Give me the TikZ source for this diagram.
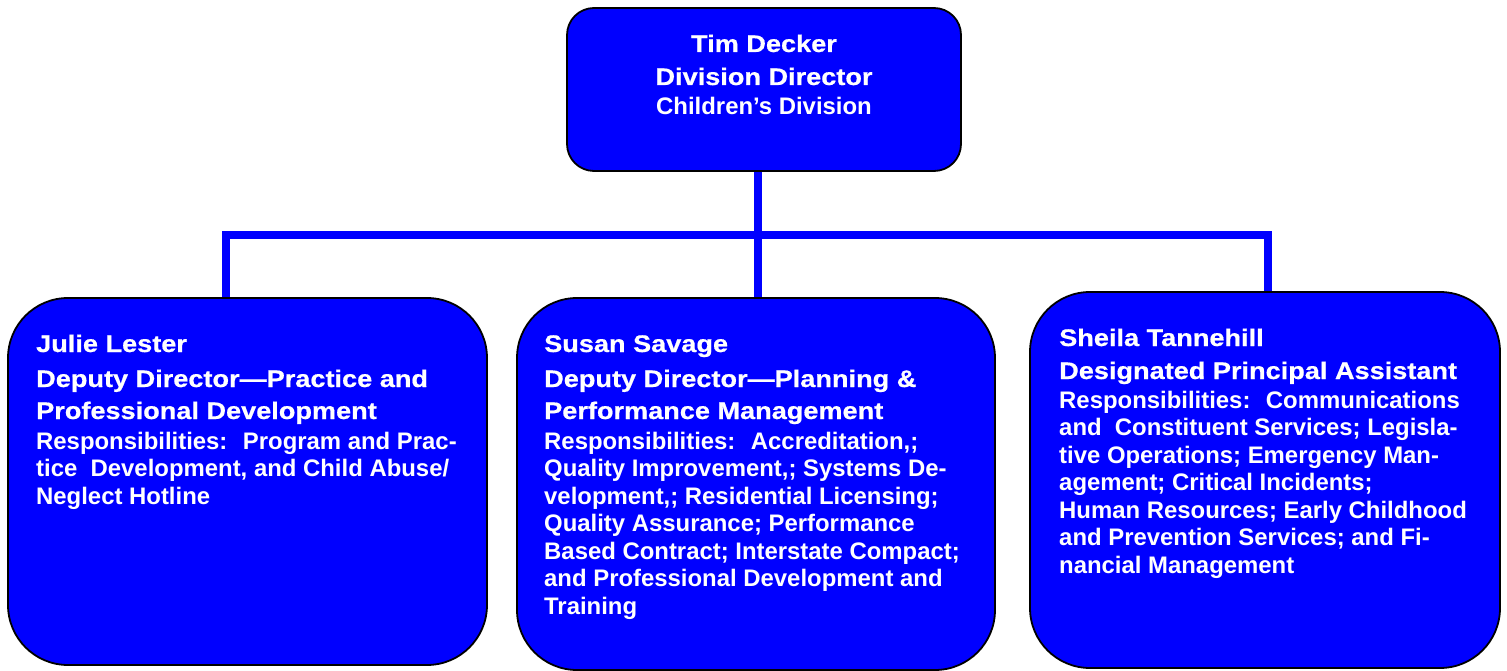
\documentclass[tikz,border=0pt]{standalone}
\usepackage{fontspec}
\setmainfont{Liberation Sans}
\newfontfamily\headfont[FakeStretch=1.13,FakeBold=0.6]{Liberation Sans}
\usetikzlibrary{backgrounds}
\definecolor{boxblue}{RGB}{0,0,255}
\tikzset{
  orgbox/.style={draw=black, line width=1.8pt, fill=boxblue, inner sep=0pt, rectangle, rounded corners=#1},
  headtext/.style={anchor=base west, inner sep=0pt, text=white, font=\headfont\bfseries\fontsize{24}{28}\selectfont},
  bodytext/.style={anchor=base west, inner sep=0pt, text=white, font=\bfseries\fontsize{23.9}{27.3}\selectfont},
  link/.style={draw=boxblue, line width=7.5pt, line join=miter}
}
\begin{document}
\begin{tikzpicture}[x=1pt,y=-1pt]
\useasboundingbox (0,0) rectangle (1507,671);
% boxes
\node[orgbox=27pt, minimum width=394pt, minimum height=163pt] (top) at (764,89.5) {};
\node[orgbox=60pt, minimum width=479pt, minimum height=367pt] (julie) at (247.5,481.5) {};
\node[orgbox=60pt, minimum width=478pt, minimum height=372pt] (susan) at (756,484) {};
\node[orgbox=60pt, minimum width=470pt, minimum height=376pt] (sheila) at (1265,480) {};
\coordinate (bar) at (758,235);
% connectors
\begin{scope}[on background layer]
\draw[link] ([xshift=-6pt]top.south) -- ([xshift=2pt]susan.north);
\draw[link] ([xshift=-21.5pt]julie.north) |- (bar) -| ([xshift=3pt]sheila.north);
\end{scope}
% top box text
\node[headtext, anchor=base] (t1) at (764,52) {Tim Decker};
\node[headtext, anchor=base] (t2) at (764,85) {Division Director};
\node[bodytext, anchor=base] (t3) at (764,115) {Children’s Division};
% Julie
\foreach \y/\t [count=\i] in {352/{Julie Lester}, 387/{Deputy Director—Practice and}, 419/{Professional Development}}
  \node[headtext] (jh\i) at (36,\y) {\t};
\foreach \y/\t [count=\i] in {449/{Responsibilities:~ Program and Prac-}, 476.5/{tice~ Development, and Child Abuse/}, 504/{Neglect Hotline}}
  \node[bodytext] (jb\i) at (36,\y) {\t};
% Susan
\foreach \y/\t [count=\i] in {352/{Susan Savage}, 387/{Deputy Director—Planning \&}, 419/{Performance Management}}
  \node[headtext] (sh\i) at (544,\y) {\t};
\foreach \y/\t [count=\i] in {449/{Responsibilities:~ Accreditation,;}, 476.5/{Quality Improvement,; Systems De-}, 504/{velopment,; Residential Licensing;}, 531.5/{Quality Assurance; Performance}, 559/{Based Contract; Interstate Compact;}, 586.5/{and Professional Development and}, 614/{Training}}
  \node[bodytext] (sb\i) at (544,\y) {\t};
% Sheila
\foreach \y/\t [count=\i] in {346/{Sheila Tannehill}, 379/{Designated Principal Assistant}}
  \node[headtext] (rh\i) at (1059,\y) {\t};
\foreach \y/\t [count=\i] in {408/{Responsibilities:~ Communications}, 435.5/{and~ Constituent Services; Legisla-}, 463/{tive Operations; Emergency Man-}, 490.5/{agement; Critical Incidents;}, 518/{Human Resources; Early Childhood}, 545.5/{and Prevention Services; and Fi-}, 573/{nancial Management}}
  \node[bodytext] (rb\i) at (1059,\y) {\t};
\end{tikzpicture}
\end{document}
